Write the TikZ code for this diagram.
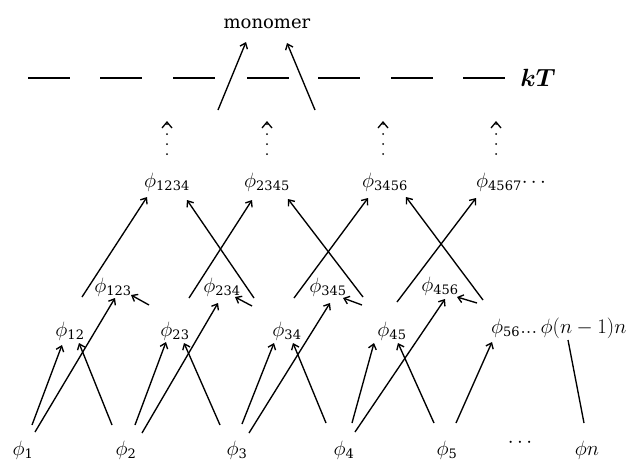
\documentclass[tikz,border=0pt]{standalone}
\usepackage{fontspec}
\usepackage{bm}
\usetikzlibrary{arrows.meta,calc}
\newfontfamily\dvs{DejaVu Serif}
\newcommand\mainsz{\fontsize{21}{25}\selectfont}
\newcommand\monosz{\dvs\fontsize{18}{22}\selectfont}
\newcommand\ktsz{\fontsize{24}{28}\selectfont}
\newcommand\subd[1]{\hbox{\dvs\fontsize{13}{13}\selectfont #1}}
\newcommand\ph[1]{$\phi_{\subd{#1}}$}
\tikzset{
  lbl/.style={inner sep=0pt, font=\mainsz},
  arr/.style={line width=1.35pt, -{Straight Barb[length=5pt,width=8pt]}},
  plainln/.style={line width=1.35pt},
  levelline/.style={line width=1.6pt},
  dotarr/.style={line width=2pt, line cap=round, dash pattern=on 0pt off 10pt,
    -{Straight Barb[length=6pt,width=10pt,line width=1.3pt]}}
}
\begin{document}
\begin{tikzpicture}[x=1pt,y=-1pt]
\useasboundingbox (0,0) rectangle (635,461);
% energy level
\foreach \x in {28,100,173,247,318,391,463} \draw[levelline] (\x,78) -- ++(42,0);
\node[lbl,font=\monosz] (mono) at (267,24) {monomer};
\node[lbl,font=\ktsz] (kt) at (538,78) {$\bm{kT}$};
% row 3
\node[lbl] (p1234) at (167,182) {\ph{1234}};
\node[lbl] (p2345) at (267,182) {\ph{2345}};
\node[lbl] (p3456) at (385,182) {\ph{3456}};
\node[lbl,anchor=west] (p4567) at (476,182) {\ph{4567}$\cdots$};
% row 2
\node[lbl] (p123) at (113,287) {\ph{123}};
\node[lbl] (p234) at (222,287) {\ph{234}};
\node[lbl] (p345) at (328,287) {\ph{345}};
\node[lbl] (p456) at (440,286) {\ph{456}};
% row 1
\node[lbl] (p12) at (70,331) {\ph{12}};
\node[lbl] (p23) at (175,331) {\ph{23}};
\node[lbl] (p34) at (287,331) {\ph{34}};
\node[lbl] (p45) at (392,331) {\ph{45}};
\node[lbl,anchor=west] (p56) at (491,328) {$\phi_{\subd{56}}{\ldotp}{\ldotp}{\ldotp}\,\phi(n-1)n$};
% row 0
\node[lbl] (p1) at (23,450) {\ph{1}};
\node[lbl] (p2) at (126,450) {\ph{2}};
\node[lbl] (p3) at (237,450) {\ph{3}};
\node[lbl] (p4) at (344,450) {\ph{4}};
\node[lbl] (p5) at (447,450) {\ph{5}};
\node[lbl] (cd) at (520,443) {$\cdots$};
\node[lbl] (pn) at (587,450) {$\phi n$};
% monomer arrows
\coordinate (m1) at (218,110);
\coordinate (m2) at (315,110);
\draw[arr] (m1) -- ($(mono)+(-21,18)$);
\draw[arr] (m2) -- ($(mono)+(20,19)$);
% dotted arrows
\draw[dotarr] ($(p1234)+(0,-28)$) -- ($(p1234)+(0,-61)$);
\draw[dotarr] ($(p2345)+(0,-28)$) -- ($(p2345)+(0,-61)$);
\draw[dotarr] ($(p3456)+(-2,-28)$) -- ($(p3456)+(-2,-61)$);
\draw[dotarr] ($(p4567.west)+(20,-28)$) -- ($(p4567.west)+(20,-61)$);
% row 0 -> row 1
\draw[arr] ($(p1)+(9,-25)$) -- ($(p12)+(-8,14)$);
\draw[arr] ($(p2)+(-14,-25)$) -- ($(p12)+(9,12)$);
\draw[arr] ($(p2)+(9,-25)$) -- ($(p23)+(-9,11)$);
\draw[arr] ($(p3)+(-17,-25)$) -- ($(p23)+(9,12)$);
\draw[arr] ($(p3)+(5,-26)$) -- ($(p34)+(-13,12)$);
\draw[arr] ($(p4)+(-18,-27)$) -- ($(p34)+(6,12)$);
\draw[arr] ($(p4)+(8,-27)$) -- ($(p45)+(-18,12)$);
\draw[arr] ($(p5)+(-13,-27)$) -- ($(p45)+(6,12)$);
\draw[arr] ($(p5)+(9,-27)$) -- ($(p56.west)+(1,14)$);
\draw[plainln] ($(pn)+(-3,-27)$) -- ($(p56.west)+(77,12)$);
% row 0 -> row 2
\draw[arr] ($(p1)+(12,-18)$) -- ($(p123)+(2,11)$);
\draw[arr] ($(p2)+(16,-17)$) -- ($(p234)+(-4,16)$);
\draw[arr] ($(p3)+(12,-17)$) -- ($(p345)+(2,16)$);
\draw[arr] ($(p4)+(11,-18)$) -- ($(p456)+(5,13)$);
% stub arrows
\draw[arr] ($(p123)+(36,18)$) -- ($(p123)+(18,8)$);
\draw[arr] ($(p234)+(30,19)$) -- ($(p234)+(13,10)$);
\draw[arr] ($(p345)+(34,18)$) -- ($(p345)+(15,11)$);
\draw[arr] ($(p456)+(37,17)$) -- ($(p456)+(17,11)$);
% row 2 -> row 3
\draw[arr] ($(p123)+(-31,10)$) -- ($(p1234)+(-20,15)$);
\draw[arr] ($(p234)+(32,11)$) -- ($(p1234)+(20,18)$);
\draw[arr] ($(p234)+(-33,11)$) -- ($(p2345)+(-15,18)$);
\draw[arr] ($(p345)+(35,10)$) -- ($(p2345)+(21,17)$);
\draw[arr] ($(p345)+(-34,11)$) -- ($(p3456)+(-17,16)$);
\draw[arr] ($(p456)+(43,14)$) -- ($(p3456)+(21,15)$);
\draw[arr] ($(p456)+(-43,16)$) -- ($(p4567.west)+(0,16)$);
\end{tikzpicture}
\end{document}
